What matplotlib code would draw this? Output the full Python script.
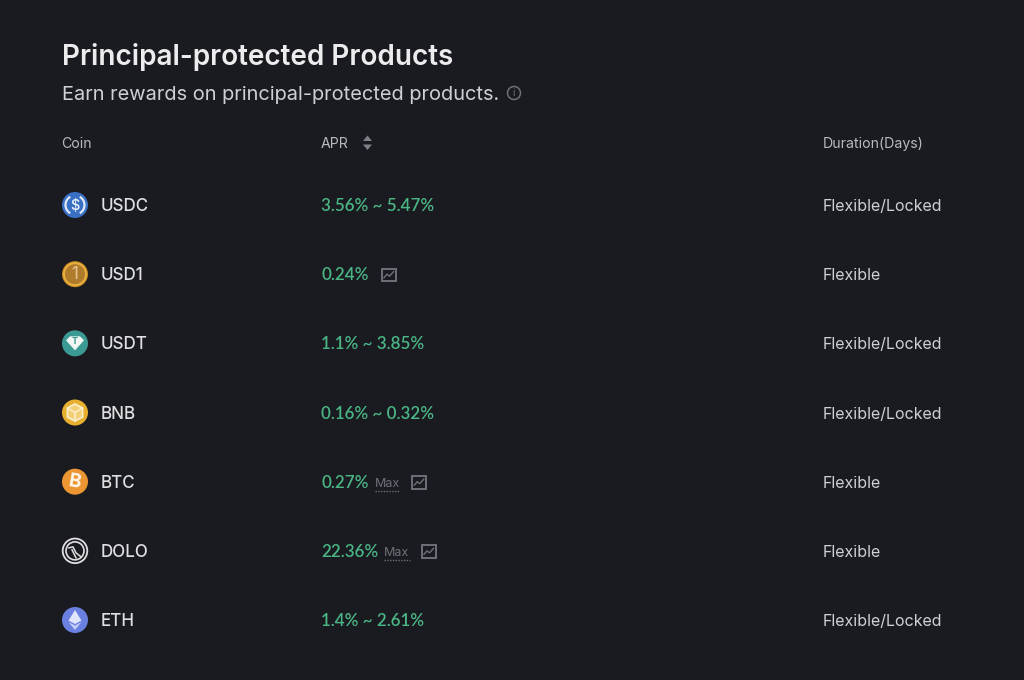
import matplotlib
matplotlib.use("Agg")
import numpy as np
import matplotlib.pyplot as plt
from matplotlib.patches import Arc, Circle, Polygon, Rectangle

plt.rcParams["font.family"] = ["Inter", "DejaVu Sans"]

coins = ["USDC", "USD1", "USDT", "BNB", "BTC", "DOLO", "ETH"]
aprs = ["3.56% ~ 5.47%", "0.24%", "1.1% ~ 3.85%", "0.16% ~ 0.32%", "0.27%", "22.36%", "1.4% ~ 2.61%"]
durations = ["Flexible/Locked", "Flexible", "Flexible/Locked", "Flexible/Locked", "Flexible", "Flexible", "Flexible/Locked"]
has_max = [False, False, False, False, True, True, False]
has_chart = [False, True, False, False, True, True, False]
icon_colors = ["#3a70c4", "#c98a22", "#3b9a94", "#e8b030", "#ec9633", "#1a1b20", "#6a80e0"]

BG = "#1a1b20"
WHITE = "#e0e0e3"
GREEN = "#4ab585"
GREY = "#6d7079"

row_y0 = 205
row_step = 69.17
x_coin = 62
x_apr = 321
x_dur = 823

fig = plt.figure(figsize=(10.24, 6.8), dpi=100, facecolor=BG)
ax = fig.add_axes([0, 0, 1, 1])
ax.set_xlim(0, 1024)
ax.set_ylim(680, 0)
ax.axis("off")


def px(size):
    return size * 0.72


def chart_icon(x, y):
    ax.add_patch(Rectangle((x, y - 6), 14.5, 12.5, fill=False, ec=GREY, lw=1.4))
    xs = x + np.array([2.5, 5.5, 8, 12])
    ys = y + np.array([3, -0.5, 1.5, -3])
    ax.plot(xs, ys, color=GREY, lw=1.0)


def coin_icon(name, color, cx, cy):
    r = 13
    if name == "DOLO":
        ax.add_patch(Circle((cx, cy), r - 0.7, fc=BG, ec=WHITE, lw=1.3))
        ax.add_patch(Circle((cx, cy), r - 4, fc=BG, ec=WHITE, lw=1.2))
        ax.plot([cx - 6, cx - 2, cx + 1, cx + 6], [cy - 3, cy - 4, cy + 2, cy + 6], color=WHITE, lw=1.1)
        ax.plot([cx - 3, cx - 1, cx + 1], [cy - 1, cy + 3, cy + 7], color=WHITE, lw=1.1)
        return
    ax.add_patch(Circle((cx, cy), r, fc=color, ec="none"))
    if name == "USDC":
        ax.add_patch(Arc((cx, cy), 19, 19, theta1=-60, theta2=60, ec="#dfe8f7", lw=1.6))
        ax.add_patch(Arc((cx, cy), 19, 19, theta1=120, theta2=240, ec="#dfe8f7", lw=1.6))
        ax.text(cx, cy + 0.5, "$", color="#eef3fb", fontsize=px(14.5), weight="medium", ha="center", va="center")
    elif name == "USD1":
        ax.add_patch(Circle((cx, cy), 11, fc="#b07c2c", ec="#e6b040", lw=1.4))
        ax.text(cx, cy + 0.5, "1", color="#e6c690", fontsize=px(17), ha="center", va="center")
    elif name == "USDT":
        ax.add_patch(Polygon([(cx - 9, cy - 3), (cx - 5, cy - 7), (cx + 5, cy - 7), (cx + 9, cy - 3), (cx, cy + 7)], fc="#f2f7f6", ec="none"))
        ax.text(cx, cy - 1.5, "T", color="#3b9a94", fontsize=px(9), weight="bold", ha="center", va="center")
    elif name == "BNB":
        hexagon = [(cx, cy - 8.5), (cx + 7.5, cy - 4.5), (cx + 7.5, cy + 4.5), (cx, cy + 8.5), (cx - 7.5, cy + 4.5), (cx - 7.5, cy - 4.5)]
        ax.add_patch(Polygon(hexagon, fc="#f3cf78", ec="#fbeec9", lw=1.3))
        ax.plot([cx - 7.5, cx, cx + 7.5], [cy - 4.5, cy, cy - 4.5], color="#fbeec9", lw=1.2)
        ax.plot([cx, cx], [cy, cy + 8.5], color="#fbeec9", lw=1.2)
    elif name == "BTC":
        ax.text(cx, cy + 0.5, "B", color="#fff6ea", fontsize=px(19), weight="bold", rotation=-10, ha="center", va="center")
    elif name == "ETH":
        ax.add_patch(Polygon([(cx, cy - 10), (cx + 6.5, cy + 0.5), (cx, cy + 4), (cx - 6.5, cy + 0.5)], fc="#dfe5fa", ec="none"))
        ax.add_patch(Polygon([(cx - 6.5, cy + 2), (cx, cy + 5.5), (cx + 6.5, cy + 2), (cx, cy + 10)], fc="#c3cdf5", ec="none"))


# titulo e cabecalho
ax.text(x_coin, 57, "Principal-protected Products", color="#ececee", fontsize=px(27.9), weight="semibold", va="center")
ax.text(x_coin, 95, "Earn rewards on principal-protected products.", color="#cfd0d4", fontsize=px(20), va="center")
ax.add_patch(Circle((514, 93), 6.5, fill=False, ec=GREY, lw=1.1))
ax.text(514, 93.3, "i", color=GREY, fontsize=px(10), ha="center", va="center")

ax.text(x_coin - 0.5, 144, "Coin", color="#b9bac0", fontsize=px(14.1), va="center")
ax.text(x_apr, 144, "APR", color="#b9bac0", fontsize=px(14.1), va="center")
ax.text(x_dur, 144, "Duration(Days)", color="#b9bac0", fontsize=px(14.1), va="center")
ax.add_patch(Polygon([(363, 141), (372, 141), (367.5, 135.5)], fc="#7d8089", ec="none"))
ax.add_patch(Polygon([(363, 144.5), (372, 144.5), (367.5, 150)], fc="#7d8089", ec="none"))

fig.canvas.draw()
renderer = fig.canvas.get_renderer()

# linhas da tabela
for i in range(len(coins)):
    y = row_y0 + i * row_step
    coin_icon(coins[i], icon_colors[i], x_coin + 13, y)
    ax.text(x_coin + 38.7, y + 1.5, coins[i], color=WHITE, fontsize=px(17), weight="medium", va="center")
    t = ax.text(x_apr, y + 1, aprs[i], color=GREEN, fontsize=px(17), family="Lato", weight="semibold", va="center")
    ax.text(x_dur, y + 1.5, durations[i], color="#cfd0d4", fontsize=px(16), va="center")

    x_end = t.get_window_extent(renderer).x1
    if has_max[i]:
        m = ax.text(x_end + 6, y + 2, "Max", color=GREY, fontsize=px(12.6), va="center")
        box = m.get_window_extent(renderer)
        ax.plot([box.x0, box.x1], [y + 9.5, y + 9.5], color=GREY, lw=1.0, ls=(0, (1, 1)))
        chart_icon(box.x1 + 12, y + 0.5)
    elif has_chart[i]:
        chart_icon(x_end + 13, y + 0.5)

fig.savefig("out.png", dpi=100, facecolor=BG)
